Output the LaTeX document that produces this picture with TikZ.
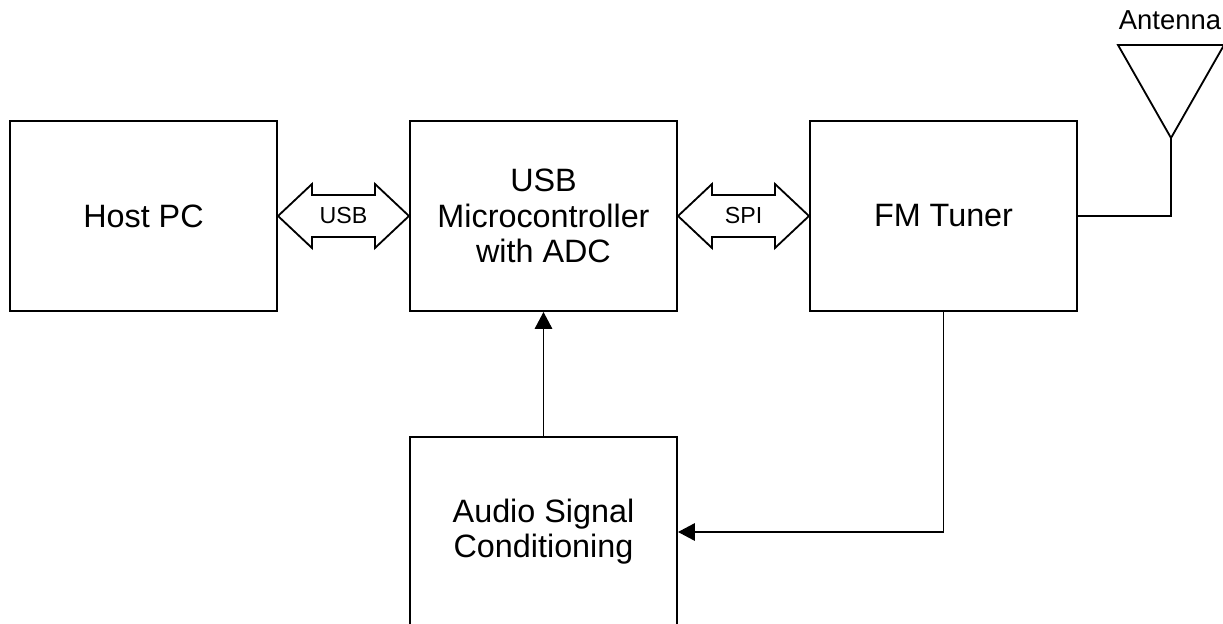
\documentclass[tikz,border=0pt]{standalone}
\usepackage{fontspec}
\setmainfont{Liberation Sans}
\usetikzlibrary{arrows.meta,positioning,calc}

\begin{document}
\begin{tikzpicture}[x=0.025cm, y=-0.025cm,
		block/.style={draw, line width=1.4pt, minimum width=6.675cm, minimum height=4.75cm, align=center, font=\fontsize{23}{25}\selectfont},
		bus/.style={draw, line width=1.3pt, line join=miter},
		buslabel/.style={font=\fontsize{16.5}{18}\selectfont},
		link/.style={line width=0.8pt, -{Triangle[length=12pt, width=12.5pt]}}]
		\useasboundingbox (0,0) rectangle (1223,624);
		\clip (0,0) rectangle (1223,624);

		\node[block] (host) at (143.5,216) {Host PC};
		\node[block] (mcu) at (543.5,216) {USB\\Microcontroller\\with ADC};
		\node[block] (fm) at (943.5,216) {FM Tuner};
		\node[block] (audio) at (543.5,532) {Audio Signal\\Conditioning};

		% two-way bus arrows
		\draw[bus] (host.east) -- ++(34,-32) -- ++(0,11) -- ($(mcu.west)+(-34,-21)$) -- ++(0,-11) -- (mcu.west)
			-- ++(-34,32) -- ++(0,-11) -- ($(host.east)+(34,21)$) -- ++(0,11) -- cycle;
		\node[buslabel] (usb) at ($(host.east)!0.5!(mcu.west)$) {USB};
		\draw[bus] (mcu.east) -- ++(34,-32) -- ++(0,11) -- ($(fm.west)+(-34,-21)$) -- ++(0,-11) -- (fm.west)
			-- ++(-34,32) -- ++(0,-11) -- ($(mcu.east)+(34,21)$) -- ++(0,11) -- cycle;
		\node[buslabel] (spi) at ($(mcu.east)!0.5!(fm.west)$) {SPI};

		\draw[link] (audio) -- (mcu);
		\draw[link] (fm.south) |- (audio.east);

		% antenna
		\coordinate (feed) at (1171,138);
		\draw[line width=1.3pt] (1118,45) -- (1224,45) -- (feed) -- cycle;
		\node[font=\fontsize{19.5}{21}\selectfont] (antlabel) at (1170,20) {Antenna};
		\draw[line width=0.8pt] (fm.east) -| (feed);
	\end{tikzpicture}
\end{document}
